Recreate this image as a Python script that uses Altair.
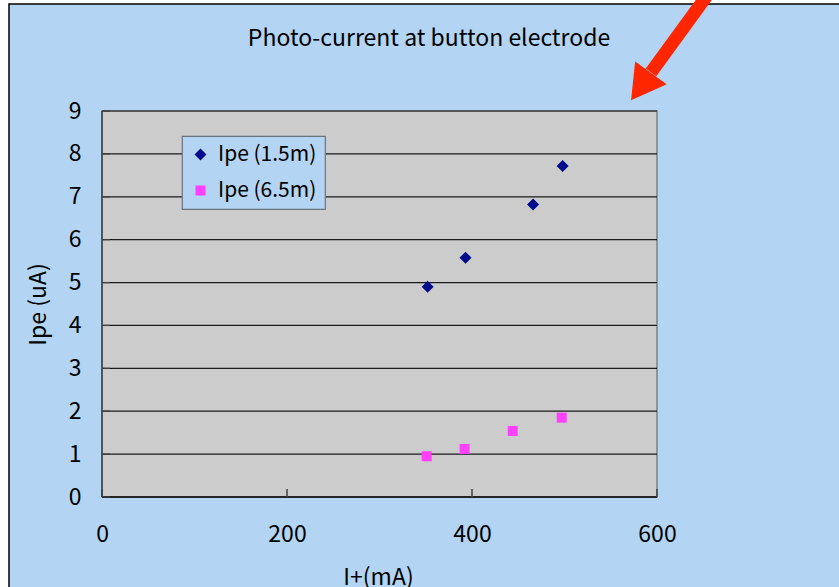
import altair as alt
import pandas as pd

# ---- data ----
series_names = ["Ipe (1.5m)", "Ipe (6.5m)"]
i_plus_15 = [352, 393, 466, 498]
ipe_15 = [4.90, 5.58, 6.82, 7.72]
i_plus_65 = [351, 392, 444, 497]
ipe_65 = [0.95, 1.12, 1.54, 1.85]

x_ticks = [0, 200, 400, 600]
y_ticks = [0, 1, 2, 3, 4, 5, 6, 7, 8, 9]

# annotation arrow (data units): tail, neck and head centre
arrow_tail = (658.4, 11.82)
arrow_neck = (593.5, 9.90)
arrow_head = (582.7, 9.57)

# ---- style ----
FONT = "Noto Sans CJK JP"
BLUE_BG = "#b3d4f2"
PLOT_BG = "#cccccc"
NAVY = "#000c8c"
MAGENTA = "#ff40ff"
RED = "#ff2600"
W, H = 555, 386

points = pd.DataFrame({
    "I": i_plus_15 + i_plus_65,
    "Ipe": ipe_15 + ipe_65,
    "series": [series_names[0]] * len(ipe_15) + [series_names[1]] * len(ipe_65),
})
xt = pd.DataFrame({"v": x_ticks})
yt = pd.DataFrame({"v": y_ticks})
grid = pd.DataFrame({"v": y_ticks[1:]})
one = pd.DataFrame({"k": [0]})
shaft = pd.DataFrame({"x": [arrow_tail[0]], "y": [arrow_tail[1]],
                      "x2": [arrow_neck[0]], "y2": [arrow_neck[1]]})
head = pd.DataFrame({"x": [arrow_head[0]], "y": [arrow_head[1]]})

x_scale = alt.Scale(domain=[0, 600], nice=False, zero=False)
y_scale = alt.Scale(domain=[0, 9], nice=False, zero=False)
x_axis = alt.Axis(values=x_ticks, title="I+(mA)", grid=False, domain=False,
                  ticks=False, tickSize=0, labelPadding=26, labelFontSize=23,
                  labelFlush=False, labelFont=FONT, labelColor="black",
                  titleFont=FONT, titleFontSize=23, titleFontWeight="normal",
                  titleColor="black", titleX=276, titleY=80,
                  titleBaseline="middle", titleAlign="center", zindex=2)
y_axis = alt.Axis(values=y_ticks, title="Ipe (uA)", grid=False, domain=False,
                  ticks=False, tickSize=0, labelPadding=21, labelFontSize=23,
                  labelFlush=False, labelFont=FONT, labelColor="black",
                  titleFont=FONT, titleFontSize=23, titleFontWeight="normal",
                  titleColor="black", titleX=-64, titleY=H / 2, titleAngle=-90,
                  titleBaseline="middle", titleAlign="center", zindex=2)


def X(field):
    return alt.X(f"{field}:Q", scale=x_scale, axis=x_axis)


def Y(field):
    return alt.Y(f"{field}:Q", scale=y_scale, axis=y_axis)


# outer light-blue frame with black edge
frame = alt.Chart(one).mark_rect(fill=BLUE_BG, stroke="black", strokeWidth=1.5).encode(
    x=alt.value(-93), x2=alt.value(760), y=alt.value(-107), y2=alt.value(500))

# grey plot area
plot_bg = alt.Chart(one).mark_rect(fill=PLOT_BG, stroke="#808080", strokeWidth=1.5).encode(
    x=alt.value(0), x2=alt.value(W), y=alt.value(0), y2=alt.value(H))

grid_lines = alt.Chart(grid).mark_rule(color="#1a1a1a", strokeWidth=1.2).encode(
    y=Y("v"), x=alt.value(0), x2=alt.value(W))

left_line = alt.Chart(one).mark_rule(color="#404040", strokeWidth=1.5).encode(
    x=alt.value(0), y=alt.value(0), y2=alt.value(H))
bottom_line = alt.Chart(one).mark_rule(color="black", strokeWidth=1.5).encode(
    y=alt.value(H), x=alt.value(0), x2=alt.value(W))

y_tick_marks = alt.Chart(yt).mark_rule(color="#404040", strokeWidth=1.2).encode(
    y=Y("v"), x=alt.value(0), x2=alt.value(8))
x_tick_marks = alt.Chart(xt).mark_rule(color="#404040", strokeWidth=1.5).encode(
    x=X("v"), y=alt.value(H), y2=alt.value(H - 8))

arrow_shaft = alt.Chart(shaft).mark_rule(color=RED, strokeWidth=13, strokeCap="butt").encode(
    x=X("x"), y=Y("y"), x2="x2:Q", y2="y2:Q")
arrow_tip = alt.Chart(head).mark_point(shape="triangle-up", angle=216, filled=True,
                                       size=1521, color=RED, opacity=1).encode(
    x=X("x"), y=Y("y"))

legend = alt.Legend(title=None, orient="none", legendX=80, legendY=25,
                    fillColor=BLUE_BG, strokeColor="#6a7480",
                    padding=8, rowPadding=14, labelFont=FONT, labelFontSize=21,
                    labelColor="black", symbolSize=120, symbolStrokeWidth=0,
                    labelOffset=7, zindex=2)

scatter = alt.Chart(points).mark_point(filled=True, opacity=1, strokeWidth=0).encode(
    x=X("I"), y=Y("Ipe"),
    color=alt.Color("series:N", scale=alt.Scale(domain=series_names, range=[NAVY, MAGENTA]),
                    legend=legend),
    shape=alt.Shape("series:N", scale=alt.Scale(domain=series_names, range=["diamond", "square"]),
                    legend=legend),
    size=alt.Size("series:N", scale=alt.Scale(domain=series_names, range=[144, 100]),
                  legend=None),
)

title = alt.Chart(one).mark_text(text="Photo-current at button electrode", font=FONT,
                                 fontSize=23, color="black", align="center",
                                 baseline="alphabetic").encode(
    x=alt.value(327), y=alt.value(-65))

chart = alt.layer(
    frame, plot_bg, grid_lines, left_line, bottom_line, y_tick_marks, x_tick_marks,
    scatter, arrow_shaft, arrow_tip, title,
).properties(
    width=W, height=H,
    autosize=alt.AutoSizeParams(type="none"),
    padding={"left": 102, "top": 111, "right": 182, "bottom": 90},
    background="white",
).configure_view(stroke=None, fill=None).configure_legend(strokeWidth=1.2)

chart.save("out.html", embed_options={"renderer": "svg", "actions": False})
